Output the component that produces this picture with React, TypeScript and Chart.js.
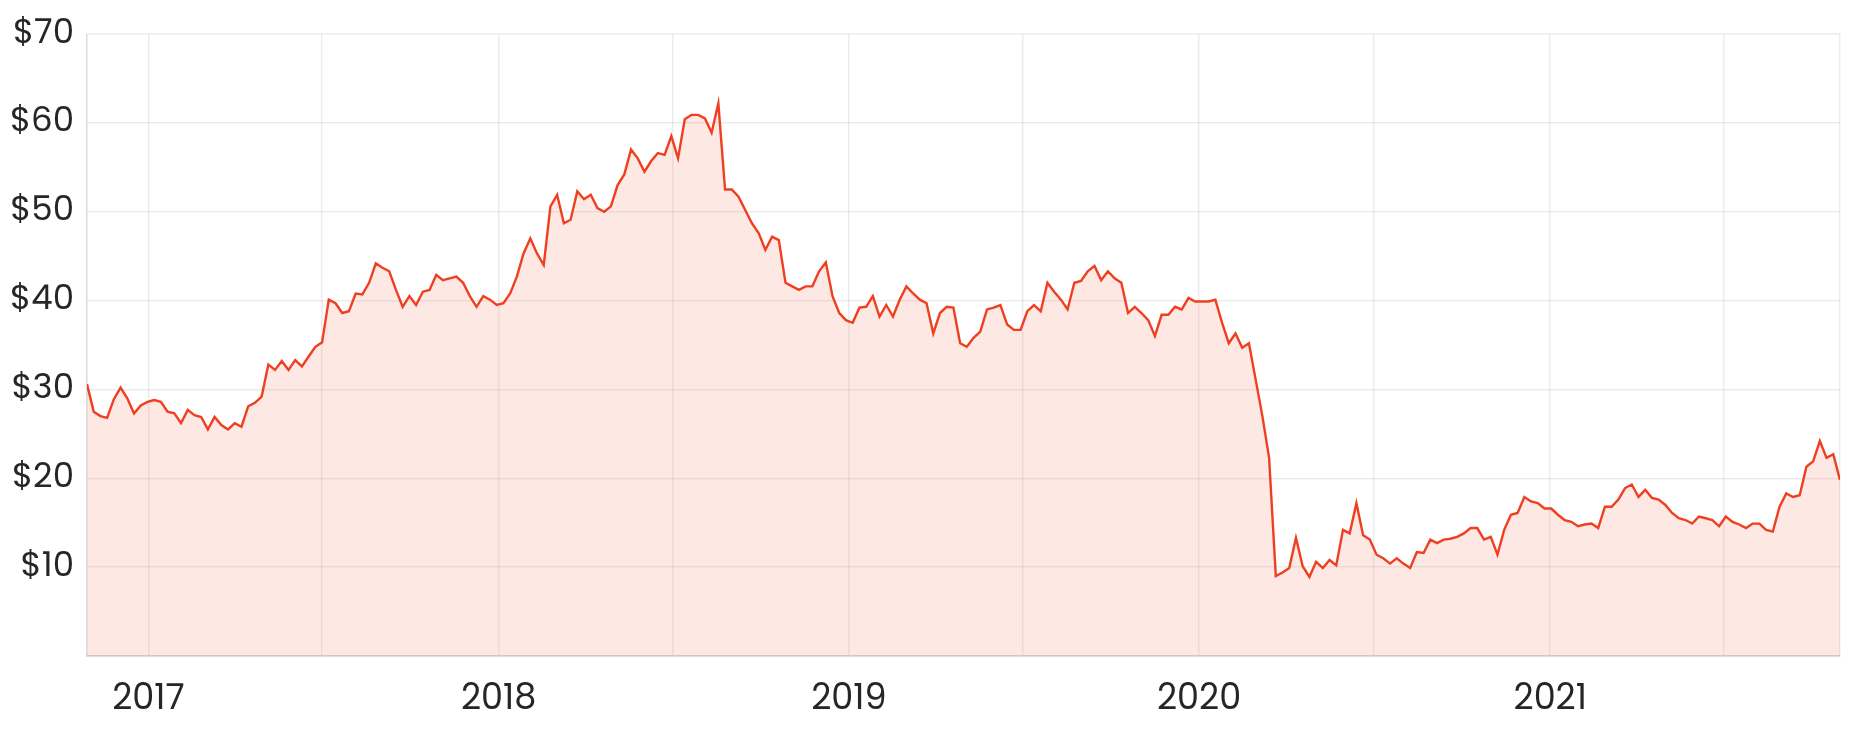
import { useEffect, useRef } from "react";
import { Chart, registerables } from "chart.js";

Chart.register(...registerables);

// Weekly closing prices (AUD), one value every 7 days starting from startDate
const startDate = "2016-10-29";

const weekly2016 = [30.6, 27.5, 27.0, 26.8, 28.9, 30.2, 29.0, 27.3, 28.2, 28.6];

const weekly2017 = [
  28.8, 28.6, 27.5, 27.3, 26.2, 27.7, 27.1, 26.9, 25.5, 26.9, 26.0, 25.5, 26.2,
  25.8, 28.1, 28.5, 29.2, 32.8, 32.2, 33.2, 32.2, 33.3, 32.6, 33.7, 34.8, 35.3,
  40.1, 39.7, 38.6, 38.8, 40.8, 40.7, 42.0, 44.2, 43.7, 43.3, 41.2, 39.3, 40.5,
  39.5, 41.0, 41.2, 42.9, 42.3, 42.5, 42.7, 42.0, 40.5, 39.3, 40.5, 40.1, 39.5,
];

const weekly2018 = [
  39.7, 40.8, 42.7, 45.3, 47.0, 45.3, 44.0, 50.6, 51.9, 48.7, 49.1, 52.3, 51.4,
  51.9, 50.4, 50.0, 50.6, 53.0, 54.2, 57.0, 56.0, 54.5, 55.7, 56.6, 56.4, 58.5,
  56.0, 60.4, 60.9, 60.9, 60.5, 58.9, 62.2, 52.5, 52.5, 51.7, 50.2, 48.7, 47.6,
  45.7, 47.2, 46.8, 42.0, 41.6, 41.2, 41.6, 41.6, 43.3, 44.3, 40.5, 38.6, 37.8,
];

const weekly2019 = [
  37.5, 39.2, 39.3, 40.5, 38.2, 39.5, 38.2, 40.1, 41.6, 40.8, 40.1, 39.7, 36.3,
  38.6, 39.3, 39.2, 35.2, 34.8, 35.8, 36.5, 39.0, 39.2, 39.5, 37.3, 36.7, 36.7,
  38.8, 39.5, 38.8, 42.0, 41.0, 40.1, 39.0, 42.0, 42.2, 43.3, 43.9, 42.3, 43.3,
  42.5, 42.0, 38.6, 39.3, 38.6, 37.8, 36.0, 38.4, 38.4, 39.3, 39.0, 40.3, 39.9,
];

const weekly2020 = [
  39.9, 39.9, 40.1, 37.5, 35.2, 36.3, 34.7, 35.2, 31.1, 27.0, 22.3, 9.0, 9.4,
  9.9, 13.3, 10.1, 8.9, 10.6, 9.9, 10.8, 10.2, 14.2, 13.8, 17.2, 13.6, 13.1,
  11.4, 11.0, 10.4, 11.0, 10.4, 9.9, 11.7, 11.6, 13.1, 12.7, 13.1, 13.2, 13.4,
  13.8, 14.4, 14.4, 13.1, 13.4, 11.4, 14.2, 15.9, 16.1, 17.9, 17.4, 17.2, 16.6,
];

const weekly2021 = [
  16.6, 15.9, 15.3, 15.1, 14.6, 14.8, 14.9, 14.4, 16.8, 16.8, 17.6, 18.9, 19.3,
  17.9, 18.7, 17.8, 17.6, 17.0, 16.1, 15.5, 15.3, 14.9, 15.7, 15.5, 15.3, 14.6,
  15.7, 15.1, 14.8, 14.4, 14.9, 14.9, 14.2, 14.0, 16.8, 18.3, 17.9, 18.1, 21.3,
  21.9, 24.2, 22.3, 22.7, 19.8,
];

const yTickValues = [0, 10, 20, 30, 40, 50, 60, 70];
const xGridDates = [
  "2017-01-01", "2017-07-01", "2018-01-01", "2018-07-01", "2019-01-01",
  "2019-07-01", "2020-01-01", "2020-07-01", "2021-01-01", "2021-07-01",
];

const LINE_COLOR = "rgb(240, 62, 32)";
const FILL_COLOR = "rgba(240, 62, 32, 0.12)";
const GRID_COLOR = "rgba(0, 0, 0, 0.075)";
const TEXT_COLOR = "#262626";
const FONT_FAMILY = "'Poppins', 'Open Sans', 'Noto Sans', sans-serif";

export default function App() {
  const ref = useRef<HTMLCanvasElement>(null);

  useEffect(() => {
    document.body.style.margin = "0";
    const DAY = 86400000;
    const start = Date.parse(startDate + "T00:00:00Z");
    const closes = [
      ...weekly2016,
      ...weekly2017,
      ...weekly2018,
      ...weekly2019,
      ...weekly2020,
      ...weekly2021,
    ];
    const points = closes.map((v, i) => ({ x: start + i * 7 * DAY, y: v }));
    const xMin = points[0].x;
    const xMax = points[points.length - 1].x;
    const xTicks = [
      xMin,
      ...xGridDates.map((d) => Date.parse(d + "T00:00:00Z")),
      xMax,
    ];

    const chart = new Chart(ref.current as HTMLCanvasElement, {
      type: "line",
      data: {
        datasets: [
          {
            data: points,
            borderColor: LINE_COLOR,
            borderWidth: 2.4,
            backgroundColor: FILL_COLOR,
            fill: "origin",
            pointRadius: 0,
            pointHoverRadius: 0,
            tension: 0,
          },
        ],
      },
      options: {
        responsive: false,
        animation: false,
        layout: { padding: { top: 34, right: 17, left: 0, bottom: 0 } },
        plugins: {
          legend: { display: false },
          tooltip: { enabled: false },
        },
        scales: {
          x: {
            type: "linear",
            min: xMin,
            max: xMax,
            afterBuildTicks: (s: any) => {
              s.ticks = xTicks.map((v) => ({ value: v }));
            },
            afterFit: (s: any) => {
              s.height = 78;
            },
            grid: { color: GRID_COLOR, drawTicks: false, lineWidth: 1.5 },
            border: { color: "rgba(0,0,0,0.1)", width: 2 },
            ticks: {
              autoSkip: false,
              maxRotation: 0,
              padding: 23,
              color: TEXT_COLOR,
              font: { family: FONT_FAMILY, size: 35 },
              callback: (v: any) => {
                const d = new Date(Number(v));
                return d.getUTCMonth() === 0 && d.getUTCDate() === 1
                  ? String(d.getUTCFullYear())
                  : "";
              },
            },
          },
          y: {
            min: 0,
            max: 70,
            afterBuildTicks: (s: any) => {
              s.ticks = yTickValues.map((v) => ({ value: v }));
            },
            afterFit: (s: any) => {
              s.width = 87;
            },
            grid: { color: GRID_COLOR, drawTicks: false, lineWidth: 1.5 },
            border: { color: GRID_COLOR, width: 1.5 },
            ticks: {
              padding: 13,
              color: TEXT_COLOR,
              font: { family: FONT_FAMILY, size: 34 },
              callback: (v: any) => (Number(v) === 0 ? "" : "$" + v),
            },
          },
        },
      },
    });
    return () => chart.destroy();
  }, []);

  return (
    <canvas
      ref={ref}
      width={1863}
      height={734}
      style={{ display: "block", width: 1863, height: 734 }}
    />
  );
}
